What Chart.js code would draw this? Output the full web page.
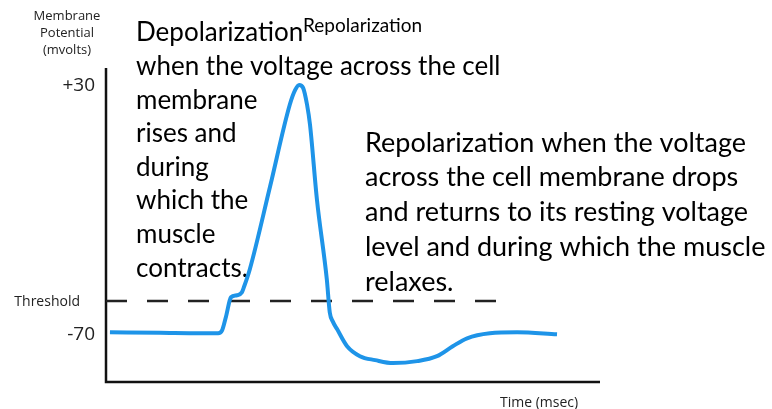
<!DOCTYPE html>
<html>
<head>
<meta charset="utf-8">
<script src="https://cdn.jsdelivr.net/npm/chart.js@4"></script>
<style>
  html, body { margin: 0; padding: 0; background: #fff; }
  #wrap { width: 772px; height: 409px; position: relative; }
</style>
</head>
<body>
<div id="wrap"><canvas id="c" width="772" height="409"></canvas></div>
<script>
// ---- data (time in arbitrary msec units, potential in mV) ----
const timeMs = [0.8, 10.9, 19.0, 22.7, 23.5, 24.3, 25.3, 26.5, 27.5, 27.9, 29.1, 33.2, 37.2, 38.3, 39.1, 39.9, 40.7, 41.3, 42.7, 44.7, 45.3, 45.9, 46.8, 48.8, 51.4, 54.5, 58.1, 63.0, 67.0, 70.2, 73.1, 77.7, 83.2, 91.3];
const potentialMv = [-70, -70.2, -70.4, -70.4, -69.2, -63.6, -55.9, -55.1, -53.9, -51.9, -44.7, -11.4, 21.6, 27.6, 29.6, 28.4, 21.6, 13.5, -16.6, -48.7, -62.0, -65.6, -68.8, -75.6, -79.6, -81.2, -82.4, -81.6, -79.6, -75.6, -72.4, -70.4, -70, -70.8];
const thresholdMv = -57.4;
const thresholdSpan = [0, 79.1];
const yTickValues = [30, -70];
const yTickLabels = ['+30', '-70'];
const yAxisTitle = ['Membrane', 'Potential', '(mvolts)'];
const thresholdLabel = 'Threshold';
const xAxisTitle = 'Time (msec)';
const depolLines = ['Depolarization', 'when the voltage across the cell', 'membrane', 'rises and', 'during', 'which the', 'muscle', 'contracts.'];
const superLabel = 'Repolarization';
const repolLines = ['Repolarization when the voltage', 'across the cell membrane drops', 'and returns to its resting voltage', 'level and during which the muscle', 'relaxes.'];

const curve = timeMs.map((t, i) => ({ x: t, y: potentialMv[i] }));
const thresholdPts = thresholdSpan.map(t => ({ x: t, y: thresholdMv }));

const TEXT_FONT = 'Lato, "Open Sans", sans-serif';

const overlay = {
  id: 'overlay',
  beforeDatasetsDraw(chart) {
    const { ctx, scales: { x, y } } = chart;
    const x0 = x.getPixelForValue(x.min), x1 = x.getPixelForValue(x.max);
    const y0 = y.getPixelForValue(y.min), y1 = y.getPixelForValue(y.max);
    ctx.save();
    // axes
    ctx.strokeStyle = '#111';
    ctx.lineWidth = 2.5;
    ctx.beginPath();
    ctx.moveTo(x0, y1);
    ctx.lineTo(x0, y0);
    ctx.lineTo(x1, y0);
    ctx.stroke();

    // small axis labels
    ctx.fillStyle = '#222';
    ctx.textBaseline = 'middle';
    ctx.textAlign = 'center';
    ctx.font = '13px "Open Sans", sans-serif';
    yAxisTitle.forEach((s, i) => ctx.fillText(s, 67, 16 + i * 17));
    ctx.textAlign = 'right';
    ctx.font = '19px "Open Sans", sans-serif';
    yTickValues.forEach((v, i) => ctx.fillText(yTickLabels[i], 95, y.getPixelForValue(v) + 2));
    ctx.font = '14px "Open Sans", sans-serif';
    ctx.fillText(thresholdLabel, 80, y.getPixelForValue(thresholdMv) + 1);
    ctx.textAlign = 'left';
    ctx.fillText(xAxisTitle, 500, 403);

    // big text blocks
    ctx.fillStyle = '#000';
    ctx.textAlign = 'left';
    ctx.font = '26px ' + TEXT_FONT;
    depolLines.forEach((s, i) => ctx.fillText(s, 136, 33 + i * 33.6));
    ctx.font = '27px ' + TEXT_FONT;
    repolLines.forEach((s, i) => ctx.fillText(s, 365, 143 + i * 34.7));
    ctx.font = '19px ' + TEXT_FONT;
    ctx.fillText(superLabel, 303, 26);
    ctx.restore();
  }
};

new Chart(document.getElementById('c'), {
  type: 'line',
  data: {
    datasets: [
      {
        data: curve,
        borderColor: 'rgb(30,148,232)',
        borderWidth: 4,
        pointRadius: 0,
        cubicInterpolationMode: 'monotone',
        fill: false
      },
      {
        data: thresholdPts,
        borderColor: '#222',
        borderWidth: 2.5,
        borderDash: [21, 20],
        pointRadius: 0,
        tension: 0,
        fill: false
      }
    ]
  },
  options: {
    responsive: false,
    animation: false,
    layout: { padding: { left: 106, right: 172, top: 68, bottom: 27 } },
    plugins: { legend: { display: false }, tooltip: { enabled: false } },
    scales: {
      x: { type: 'linear', min: 0, max: 100, display: false },
      y: { type: 'linear', min: -90, max: 36.4, display: false }
    }
  },
  plugins: [overlay]
});
</script>
</body>
</html>
